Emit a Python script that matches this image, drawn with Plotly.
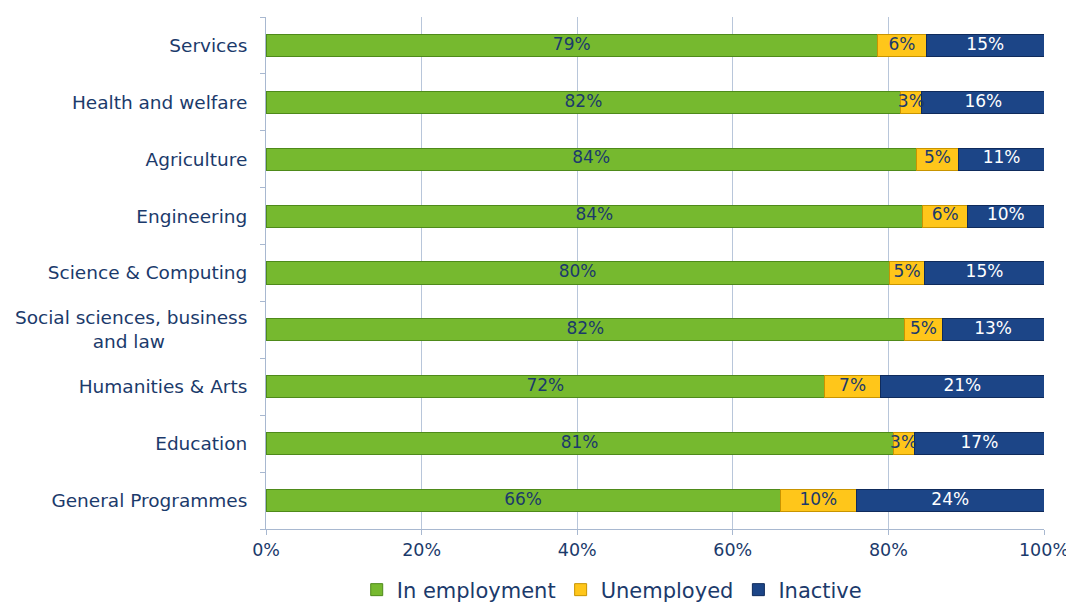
import plotly.graph_objects as go

pad = "\u00a0" * 14
categories = ["General Programmes", "Education", "Humanities & Arts",
              "Social sciences, business<br>and law" + pad,
              "Science & Computing", "Engineering", "Agriculture",
              "Health and welfare", "Services"]
in_employment = [66.1, 80.6, 71.8, 82.1, 80.1, 84.4, 83.6, 81.6, 78.6]
unemployed = [9.8, 2.7, 7.2, 4.8, 4.6, 5.8, 5.4, 2.7, 6.3]
inactive = [24.1, 16.8, 21.0, 13.1, 15.3, 9.8, 11.1, 15.8, 15.1]
x_ticks = [0, 20, 40, 60, 80, 100]
x_tick_labels = ["0%", "20%", "40%", "60%", "80%", "100%"]

navy = "#1B3A6B"
font_family = "DejaVu Sans, Noto Sans, sans-serif"

fig = go.Figure()
series = [
    ("In employment", in_employment, "#76B92F", "#4E8A1A", navy),
    ("Unemployed", unemployed, "#FFC61A", "#C89400", navy),
    ("Inactive", inactive, "#1C4587", "#0F2B5C", "white"),
]
base = [0.0] * len(categories)
for name, vals, color, line, tcol in series:
    fig.add_trace(go.Bar(
        y=categories, x=vals, name=name, orientation="h",
        marker=dict(color=color, line=dict(color=line, width=1)),
        width=0.39, textposition="none", hoverinfo="skip",
    ))
    mids = [b + v / 2 for b, v in zip(base, vals)]
    fig.add_trace(go.Scatter(
        y=categories, x=mids, mode="text",
        text=[f"{v:.0f}%" for v in vals],
        textposition="middle center",
        textfont=dict(color=tcol, size=17, family=font_family),
        showlegend=False, hoverinfo="skip", cliponaxis=False,
    ))
    base = [b + v for b, v in zip(base, vals)]

fig.update_layout(
    barmode="stack",
    width=1066, height=600,
    margin=dict(l=258, r=30, t=9, b=79, autoexpand=False),
    paper_bgcolor="white", plot_bgcolor="white",
    font=dict(family=font_family, size=18, color=navy),
    legend=dict(orientation="h", x=0.445, xanchor="center",
                yref="container", y=0.03, yanchor="middle",
                font=dict(size=21, color=navy, family=font_family),
                itemwidth=30, traceorder="normal", itemclick=False),
    xaxis=dict(range=[0, 100], tickvals=x_ticks, ticktext=x_tick_labels,
               showgrid=True, gridcolor="#B8C6DA", gridwidth=1,
               showline=True, linecolor="#A8B8D0", ticks="outside",
               tickcolor="#A8B8D0", ticklen=5, zeroline=False, automargin=False,
               ticklabeloverflow="allow",
               tickfont=dict(size=17.5, color=navy)),
    yaxis=dict(showline=True, linecolor="#A8B8D0", ticks="outside",
               tickson="boundaries", tickcolor="#A8B8D0", ticklen=5,
               showgrid=False, tickfont=dict(size=18.5, color=navy),
               automargin=False, ticklabelstandoff=14),
)

fig.write_html("out.html")
